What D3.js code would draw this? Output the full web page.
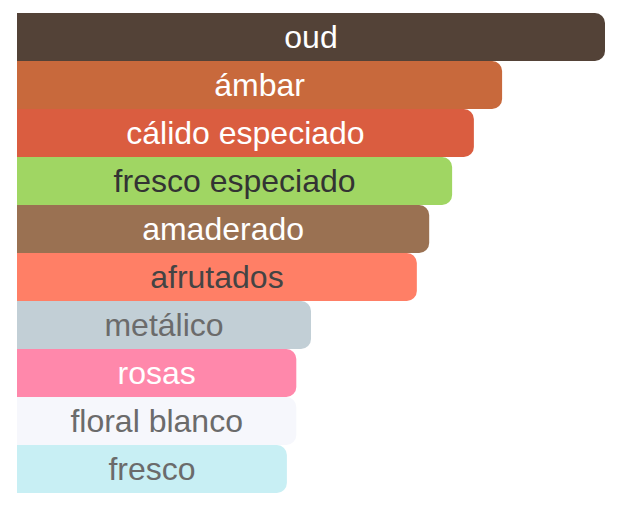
<!DOCTYPE html>
<html>
<head>
<meta charset="utf-8">
<script src="https://cdn.jsdelivr.net/npm/d3@7"></script>
<style>
  body { margin: 0; background: #fff; }
  #chart text { font-family: "Liberation Sans", Arial, Helvetica, sans-serif; }
</style>
</head>
<body>
<div id="chart"></div>
<script>
// accords, top to bottom
const labels = ["oud", "ámbar", "cálido especiado", "fresco especiado", "amaderado",
  "afrutados", "metálico", "rosas", "floral blanco", "fresco"];
const values = [100, 82.5, 77.7, 74, 70.1, 68, 50, 47.5, 47.5, 45.9];
const barColors = ["#534237", "#c8693c", "#da5d40", "#a0d663", "#9a7152",
  "#ff7f66", "#c2cfd6", "#ff88ab", "#f6f7fc", "#c8eff4"];
const textColors = ["#fff", "#fff", "#fff", "#333", "#fff",
  "#444", "#6b6b6b", "#fff", "#6b6b6b", "#6b6b6b"];

const width = 622, height = 512;
const margin = {top: 13, right: 17, bottom: 19, left: 17};
const r = 10;

const svg = d3.select("#chart").append("svg")
  .attr("width", width)
  .attr("height", height);

const x = d3.scaleLinear()
  .domain([0, 100])
  .range([margin.left, width - margin.right]);

const y = d3.scaleBand()
  .domain(labels)
  .range([margin.top, height - margin.bottom])
  .padding(0);

// bar with rounded right corners only
function barPath(x0, x1, y0, h) {
  const w = x1 - x0;
  const rr = Math.min(r, w / 2, h / 2);
  return `M${x0},${y0}H${x1 - rr}A${rr},${rr} 0 0 1 ${x1},${y0 + rr}` +
    `V${y0 + h - rr}A${rr},${rr} 0 0 1 ${x1 - rr},${y0 + h}H${x0}Z`;
}

const g = svg.selectAll("g.bar")
  .data(labels)
  .join("g")
  .attr("class", "bar");

g.append("path")
  .attr("d", (d, i) => barPath(x(0), x(values[i]), y(d), y.bandwidth()))
  .attr("fill", (d, i) => barColors[i]);

g.append("text")
  .attr("x", (d, i) => (x(0) + x(values[i])) / 2)
  .attr("y", d => y(d) + y.bandwidth() / 2)
  .attr("dy", "0.35em")
  .attr("text-anchor", "middle")
  .attr("font-size", 32)
  .attr("fill", (d, i) => textColors[i])
  .text(d => d);
</script>
</body>
</html>
